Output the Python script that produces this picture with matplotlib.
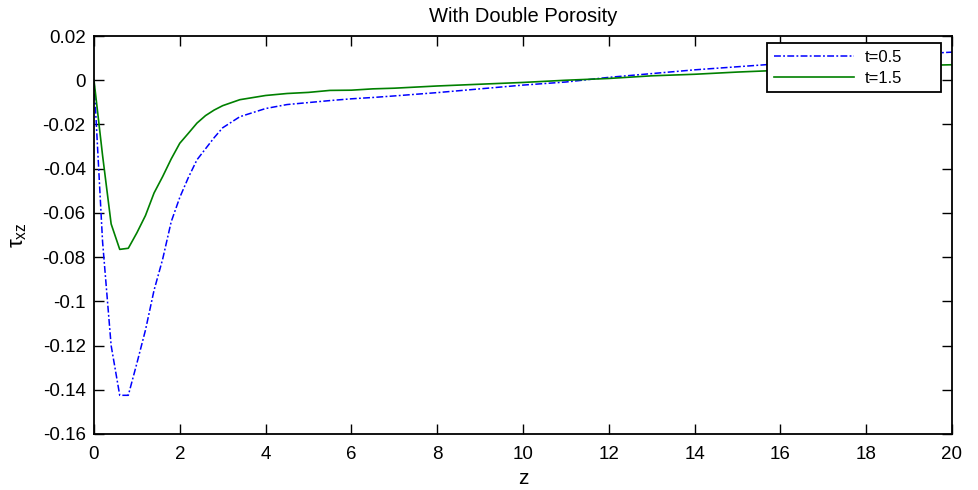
#!/usr/bin/env python3
# -*- coding: utf-8 -*-

import matplotlib
matplotlib.use('Agg')
from matplotlib import pyplot as plt

# values
z = [0, 0.2, 0.4, 0.6, 0.8, 1.0, 1.2, 1.4, 1.6, 1.8, 2.0, 2.2, 2.4, 2.6, 2.8, 3.0,
     3.4, 4.0, 4.5, 5.0, 5.5, 6.0, 6.5, 7.0, 8.0, 9.0, 10.0, 11.0, 12.0, 13.0,
     14.0, 15.0, 16.0, 17.0, 18.0, 19.0, 20.0]
tau_t05 = [0, -0.073, -0.120, -0.1425, -0.1425, -0.128, -0.113, -0.095, -0.081, -0.064,
           -0.053, -0.044, -0.036, -0.031, -0.026, -0.0215, -0.0165, -0.0128, -0.011,
           -0.0101, -0.0092, -0.0084, -0.0078, -0.0071, -0.0056, -0.0039, -0.0022,
           -0.0008, 0.0013, 0.0030, 0.0047, 0.0061, 0.0075, 0.0090, 0.0104, 0.0117, 0.0127]
tau_t15 = [0, -0.034, -0.065, -0.0765, -0.0760, -0.069, -0.0612, -0.051, -0.0436, -0.0356,
           -0.0285, -0.024, -0.0194, -0.016, -0.0135, -0.0115, -0.0088, -0.0069, -0.006,
           -0.0055, -0.0046, -0.0045, -0.0039, -0.0036, -0.0026, -0.0018, -0.001,
           0.0, 0.0008, 0.002, 0.0027, 0.0037, 0.0045, 0.0053, 0.006, 0.0066, 0.007]
labels = ['t=0.5', 't=1.5']
xticks = [0, 2, 4, 6, 8, 10, 12, 14, 16, 18, 20]
yticks = [0.02, 0, -0.02, -0.04, -0.06, -0.08, -0.1, -0.12, -0.14, -0.16]
yticklabels = ['0.02', '0', '-0.02', '-0.04', '-0.06', '-0.08', '-0.1', '-0.12', '-0.14', '-0.16']

plt.rcParams['font.family'] = ['Liberation Sans', 'DejaVu Sans']
plt.rcParams['mathtext.fontset'] = 'custom'
plt.rcParams['mathtext.rm'] = 'Liberation Sans'
plt.rcParams['mathtext.it'] = 'Liberation Sans:italic'

fig = plt.figure(figsize=(9.79, 4.90), dpi=100)
ax = fig.add_axes([0.096, 0.1143, 0.8764, 0.8122])

ax.plot(z, tau_t05, color=(0, 0, 1), linestyle='-.', dashes=(4.5, 1.5, 1.2, 1.5),
        linewidth=1.1, label=labels[0])
ax.plot(z, tau_t15, color=(0, 0.5, 0), linestyle='-', linewidth=1.2, label=labels[1])

ax.set_xlim(0, 20)
ax.set_ylim(-0.16, 0.02)
ax.set_xticks(xticks)
ax.set_yticks(yticks)
ax.set_yticklabels(yticklabels)
ax.tick_params(direction='in', length=7, width=1.0, top=True, right=True,
               labelsize=13.5, pad=6)
ax.tick_params(axis='x', pad=9)
for s in ax.spines.values():
    s.set_linewidth(1.3)

ax.set_title('With Double Porosity', fontsize=14.5, pad=10)
ax.set_xlabel('z', fontsize=15, labelpad=4)
ax.set_ylabel(r'$\mathrm{\tau_{xz}}$', fontsize=16, labelpad=10)

# MATLAB style legend box: fixed width, content left aligned
leg = ax.legend(loc='upper left', bbox_to_anchor=(0.7844, 0.857, 0.2028, 0.125),
                mode='expand', borderaxespad=0,
                fontsize=12, handlelength=4.8, handletextpad=0.65, labelspacing=0.35,
                fancybox=False, framealpha=1, edgecolor='black', borderpad=0.4)
leg.get_frame().set_linewidth(1.3)

fig.savefig('out.png', dpi=100)
